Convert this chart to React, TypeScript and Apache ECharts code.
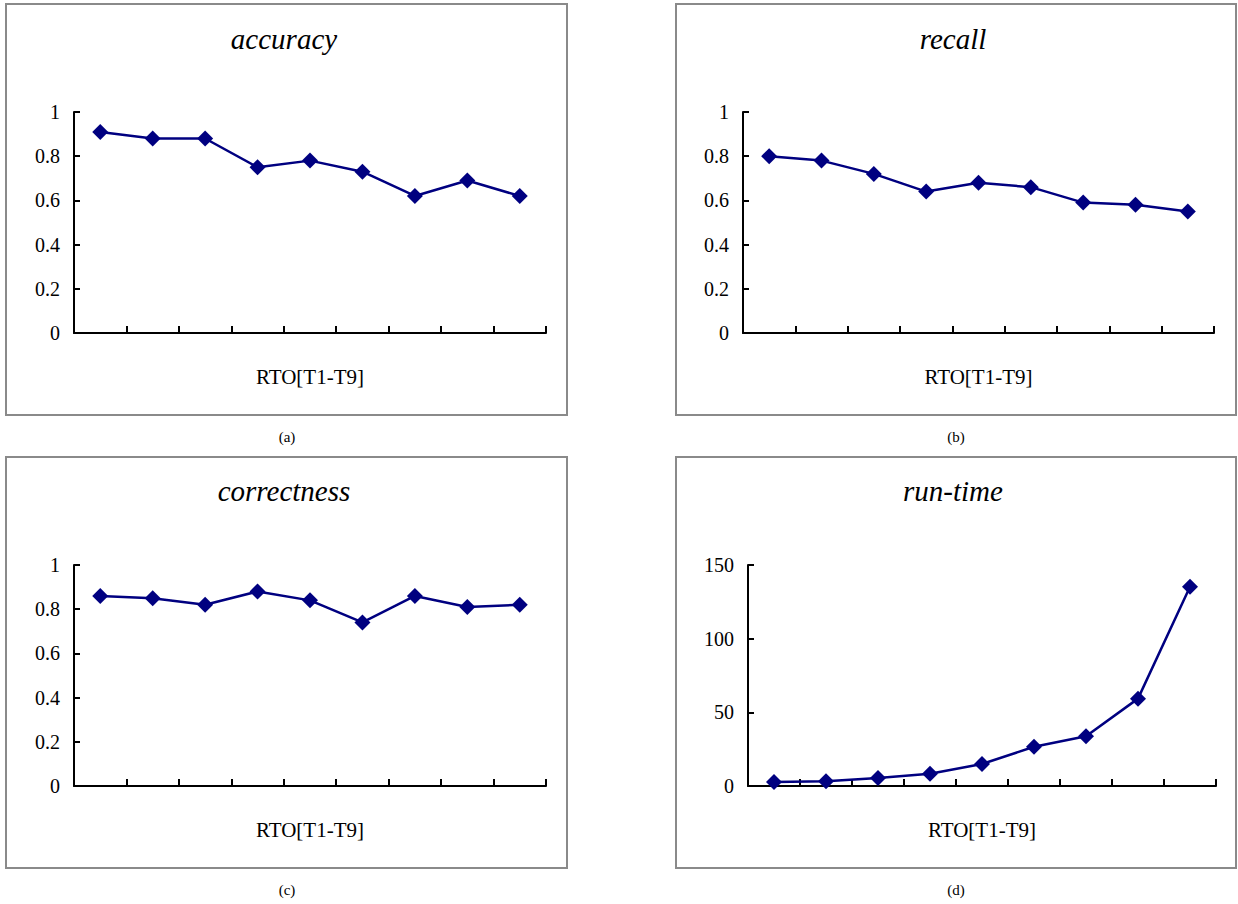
import React, { useEffect, useRef } from "react";
import * as echarts from "echarts";

const categories = ["T1", "T2", "T3", "T4", "T5", "T6", "T7", "T8", "T9"];
const accuracy = [0.91, 0.88, 0.88, 0.75, 0.78, 0.73, 0.62, 0.69, 0.62];
const recall = [0.8, 0.78, 0.72, 0.64, 0.68, 0.66, 0.59, 0.58, 0.55];
const correctness = [0.86, 0.85, 0.82, 0.88, 0.84, 0.74, 0.86, 0.81, 0.82];
const runTime = [2.7, 3.2, 5.4, 8.3, 14.9, 26.6, 33.8, 59.3, 135.3];
const titles = ["accuracy", "recall", "correctness", "run-time"];
const captions = ["(a)", "(b)", "(c)", "(d)"];
const xName = "RTO[T1-T9]";

const FONT = "Liberation Serif, serif";

export default function App() {
  const ref = useRef<HTMLDivElement>(null);
  useEffect(() => {
    if (!ref.current) return;
    const chart = echarts.init(ref.current, undefined, { renderer: "svg" });
    const panels = [
      { data: accuracy, max: 1, interval: 0.2, grid: { left: 74, top: 112, width: 472, height: 221 }, box: [6, 4, 561, 411], title: [284, 39], cap: [287, 437] },
      { data: recall, max: 1, interval: 0.2, grid: { left: 743, top: 112, width: 471, height: 221 }, box: [676, 4, 560, 411], title: [953, 39], cap: [956, 437] },
      { data: correctness, max: 1, interval: 0.2, grid: { left: 74, top: 565, width: 472, height: 221 }, box: [6, 457, 561, 411], title: [284, 491], cap: [287, 890] },
      { data: runTime, max: 150, interval: 50, grid: { left: 748, top: 565, width: 468, height: 221 }, box: [676, 457, 560, 411], title: [953, 491], cap: [956, 890] },
    ];
    const graphics: any[] = [];
    panels.forEach((p, i) => {
      graphics.push({
        type: "rect",
        shape: { x: p.box[0], y: p.box[1], width: p.box[2], height: p.box[3] },
        style: { fill: "none", stroke: "#8a8a8a", lineWidth: 2 },
        z: 0,
      });
      graphics.push({
        type: "text",
        x: p.title[0],
        y: p.title[1],
        style: { text: titles[i], fontFamily: FONT, fontStyle: "italic", fontSize: 29, fill: "#000", align: "center", verticalAlign: "middle" },
      });
      graphics.push({
        type: "text",
        x: p.cap[0],
        y: p.cap[1],
        style: { text: captions[i], fontFamily: FONT, fontSize: 15, fill: "#000", align: "center", verticalAlign: "middle" },
      });
    });
    chart.setOption({
      animation: false,
      backgroundColor: "#fff",
      textStyle: { fontFamily: FONT },
      grid: panels.map((p) => ({ ...p.grid, containLabel: false })),
      xAxis: panels.map((p, i) => ({
        type: "category",
        gridIndex: i,
        data: categories,
        boundaryGap: true,
        name: xName,
        nameLocation: "middle",
        nameGap: 33,
        nameTextStyle: { fontFamily: FONT, fontSize: 21, color: "#000" },
        axisLine: { lineStyle: { color: "#000", width: 2 } },
        axisTick: { show: true, inside: true, length: 7, interval: 0, lineStyle: { color: "#000", width: 2 } },
        axisLabel: { show: false },
        splitLine: { show: false },
      })),
      yAxis: panels.map((p, i) => ({
        type: "value",
        gridIndex: i,
        min: 0,
        max: p.max,
        interval: p.interval,
        axisLine: { show: true, lineStyle: { color: "#000", width: 2 } },
        axisTick: { show: true, inside: true, length: 6, lineStyle: { color: "#000", width: 2 } },
        axisLabel: { fontFamily: FONT, fontSize: 20, color: "#000", margin: 14 },
        splitLine: { show: false },
      })),
      series: panels.map((p, i) => ({
        type: "line",
        xAxisIndex: i,
        yAxisIndex: i,
        data: p.data,
        symbol: "diamond",
        symbolSize: 16,
        lineStyle: { color: "#000080", width: 2.5 },
        itemStyle: { color: "#000080" },
        z: 5,
      })),
      graphic: graphics,
    });
    return () => chart.dispose();
  }, []);
  return <div ref={ref} style={{ position: "fixed", left: 0, top: 0, width: 1238, height: 904 }} />;
}
